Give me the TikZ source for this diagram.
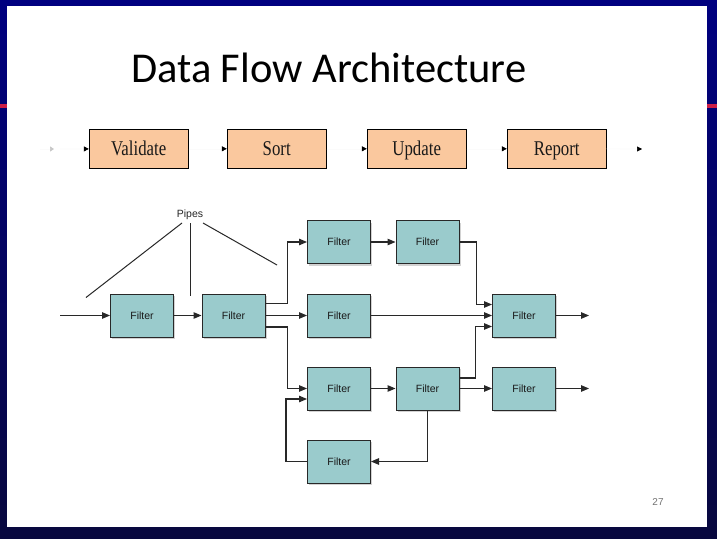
\documentclass[tikz,border=0pt]{standalone}
\usepackage{fontspec}
\setmainfont{Liberation Serif}
\newfontfamily\titlefont{Carlito}
\newfontfamily\sansf{Liberation Sans}
\newfontfamily\boxfont[FakeStretch=0.8]{Liberation Serif}
\usetikzlibrary{arrows.meta,shadows,calc}
\definecolor{navy}{RGB}{0,0,128}
\definecolor{navydark}{RGB}{8,8,62}
\definecolor{peach}{RGB}{250,200,158}
\definecolor{filtfill}{RGB}{154,203,204}
\definecolor{edgec}{RGB}{40,40,40}
\definecolor{fred}{RGB}{205,30,70}
\definecolor{faint}{RGB}{251,251,251}
\tikzset{
  stagebox/.style={draw=black, line width=0.8pt, fill=peach, minimum width=99pt, minimum height=39pt, inner sep=0pt,
    text height=14.5pt, text depth=0.7pt,
    font=\boxfont\fontsize{21}{24}\selectfont, text=black!90},
  filterbox/.style={draw=edgec, line width=1pt, fill=filtfill, minimum width=63pt, minimum height=43pt, inner sep=0pt,
    font=\sansf\fontsize{10.5}{12}\selectfont, text=black!90,
    drop shadow={opacity=0.35, shadow xshift=1.8pt, shadow yshift=-2pt}},
  stagelink/.style={draw=faint, line width=0.6pt, -{Triangle[color=black, length=5pt, width=5pt]}},
  pipe/.style={draw=edgec, line width=1.1pt, -{Triangle[length=8pt, width=6.5pt]}},
  pipeline/.style={draw=edgec, line width=1pt},
}
\begin{document}
\begin{tikzpicture}[x=1pt,y=-1pt]
\useasboundingbox (0,0) rectangle (717,538);
% frame
\shade[top color=navy, bottom color=navydark] (0,0) rectangle (717,538);
\fill[white] (7,6) rectangle (707,527);
\fill[fred] (0,104) rectangle (7,108);
\fill[fred] (707,104) rectangle (717,108);
% title
\node[anchor=base west, inner sep=0pt, font=\titlefont\fontsize{42.5}{50}\selectfont] (title) at (131,82.7) {Data Flow Architecture};
% top pipeline
\node[stagebox] (validate) at (138.7,148.8) {Validate};
\node[stagebox] (sort) at (276.7,148.8) {Sort};
\node[stagebox] (update) at (416.7,148.8) {Update};
\node[stagebox] (report) at (556.7,148.8) {Report};
\coordinate (s0) at (40,149);
\coordinate (s1) at (54,149);
\coordinate (s2) at (60,149);
\coordinate (e1) at (642,149);
\draw[draw=faint, line width=0.6pt, -{Triangle[color=black!22, length=4pt, width=5pt]}] (s0) -- (s1);
\draw[stagelink] (s2) -- (validate);
\draw[stagelink] (validate) -- (sort);
\draw[stagelink] (sort) -- (update);
\draw[stagelink] (update) -- (report);
\draw[stagelink] (report) -- (e1);
% filters
\node[filterbox] (f1) at (142,315.5) {Filter};
\node[filterbox] (f2) at (233.5,315.5) {Filter};
\node[filterbox] (f3) at (339,242) {Filter};
\node[filterbox] (f4) at (427.5,242) {Filter};
\node[filterbox] (f5) at (339,315.5) {Filter};
\node[filterbox] (f6) at (524,315.5) {Filter};
\node[filterbox] (f7) at (339,388.5) {Filter};
\node[filterbox] (f8) at (427.5,388.5) {Filter};
\node[filterbox] (f9) at (524,388.5) {Filter};
\node[filterbox] (f10) at (339,461.5) {Filter};
% pipes label
\node[font=\sansf\fontsize{10.5}{12}\selectfont, text=black!85, inner sep=1pt] (pipes) at (190,215) {Pipes};
\coordinate (pl0) at (182,223);
\coordinate (pl1) at (86,297.5);
\coordinate (pv0) at (190,223);
\coordinate (pv1) at (190,296);
\coordinate (pr0) at (203,223);
\coordinate (pr1) at (277,265);
\draw[pipeline] (pl0) -- (pl1);
\draw[pipeline] (pv0) -- (pv1);
\draw[pipeline] (pr0) -- (pr1);
% connectors
\coordinate (in0) at (60,315.5);
\coordinate (o1) at (589,315.5);
\coordinate (o2) at (589,388.5);
\draw[pipe] (in0) -- (f1);
\draw[pipe] (f1) -- (f2);
\draw[pipe] ($(f2.east)+(0,-12)$) -- ++(22,0) |- (f3);
\draw[pipe] (f2) -- (f5);
\draw[pipe] ($(f2.east)+(0,11.5)$) -- ++(22,0) |- (f7);
\draw[pipe] (f3) -- (f4);
\draw[pipe] (f4.east) -- ++(17,0) |- ($(f6.west)+(0,-11)$);
\draw[pipe] (f5) -- (f6);
\draw[pipe] ($(f8.east)+(0,-10.5)$) -- ++(16,0) |- ($(f6.west)+(0,11)$);
\draw[pipe] (f6) -- (o1);
\draw[pipe] (f7) -- (f8);
\draw[pipe] (f8) -- (f9);
\draw[pipe] (f9) -- (o2);
\draw[pipe] (f8.south) |- (f10);
\draw[pipe] (f10.west) -- ++(-21,0) |- ($(f7.west)+(0,10.5)$);
% page number
\node[font=\sansf\fontsize{10}{12}\selectfont, text=black!55, inner sep=0pt] (pnum) at (658,502) {27};
\end{tikzpicture}
\end{document}
